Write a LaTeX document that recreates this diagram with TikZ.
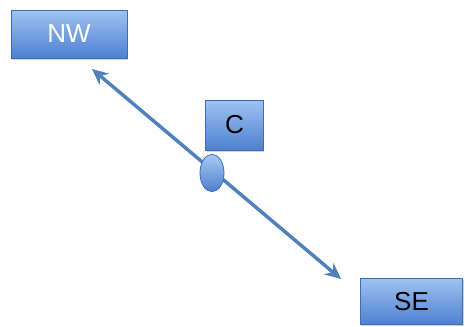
\documentclass[tikz,border=0pt]{standalone}
\usepackage{fontspec}
\setmainfont{Liberation Sans}
\usetikzlibrary{shapes.geometric,shadows,arrows.meta}
\definecolor{boxtop}{RGB}{158,195,242}
\definecolor{boxbot}{RGB}{78,128,208}
\definecolor{boxline}{RGB}{62,110,178}
\definecolor{arrowc}{RGB}{79,129,189}
\tikzset{
  box/.style={rectangle, draw=boxline, line width=0.6pt, top color=boxtop, bottom color=boxbot,
    drop shadow={shadow xshift=0.8pt, shadow yshift=-1.2pt, opacity=0.35},
    font=\fontsize{19.5}{19.5}\selectfont, inner sep=0pt},
  conn/.style={draw=arrowc, line width=2.6pt, {Stealth[length=12pt,width=11pt]}-{Stealth[length=12pt,width=11pt]}},
  blob/.style={ellipse, draw=boxline, line width=0.6pt, top color=boxtop!90, bottom color=boxbot,
    minimum width=18pt, minimum height=28pt, inner sep=0pt}
}
\begin{document}
\begin{tikzpicture}[x=0.75pt,y=-0.75pt]
\useasboundingbox (0,0) rectangle (465,326);
\node[box, minimum width=87pt, minimum height=36pt, text=white] (NW) at (69,34) {NW};
\node[box, minimum width=43pt, minimum height=37.5pt, text=black] (C) at (234.5,125) {C};
\node[box, minimum width=77pt, minimum height=35pt, text=black] (SE) at (411.5,301.5) {SE};
\coordinate (a) at (92,69);
\coordinate (b) at (341,279);
\draw[conn] (a) -- (b);
\node[blob] (E) at (212,173) {};
\end{tikzpicture}
\end{document}
